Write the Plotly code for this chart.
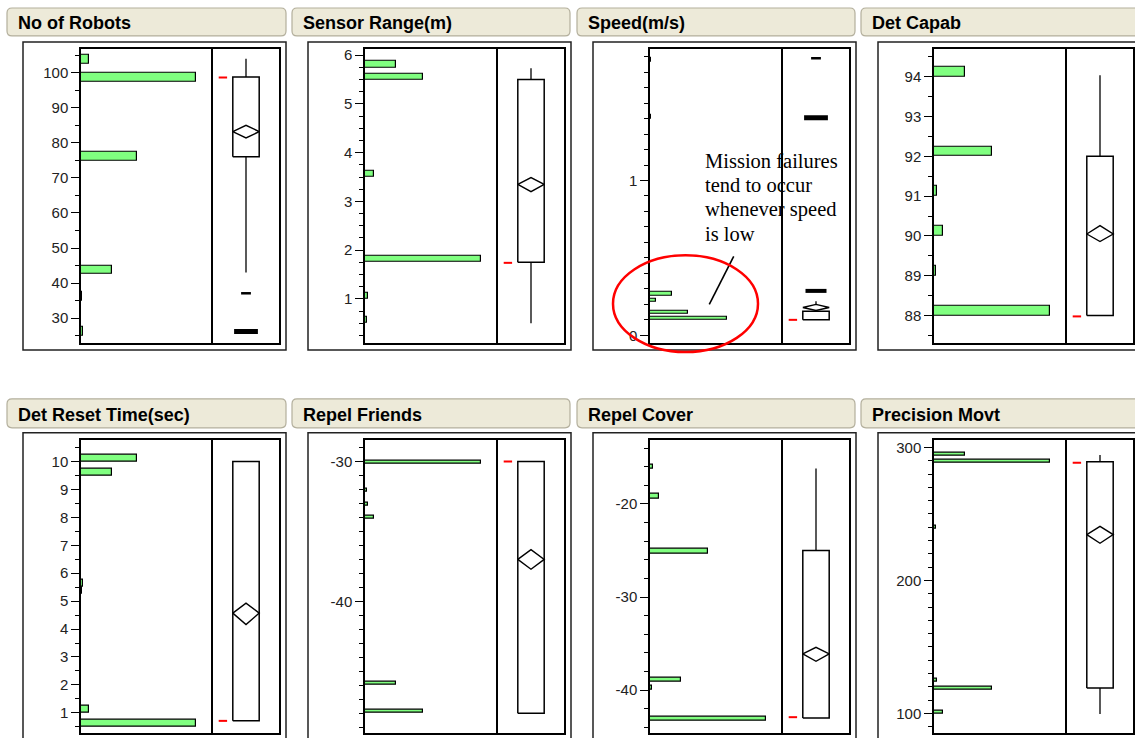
import plotly.graph_objects as go

# ---------------- data ----------------
titles = ["No of Robots", "Sensor Range(m)", "Speed(m/s)", "Det Capab",
          "Det Reset Time(sec)", "Repel Friends", "Repel Cover", "Precision Movt"]

robots_bin_lo = [25, 35, 42.5, 75, 97.5, 102.5]
robots_count = [2, 1, 27, 49, 100, 7]
robots_bin_w = 2.5
robots_ticks = [30, 40, 50, 60, 70, 80, 90, 100]
robots_ticklabels = ["30", "40", "50", "60", "70", "80", "90", "100"]
robots_range = [22.9, 106.8]
robots_minor = 5
robots_quartiles = [76, 98.75]
robots_whiskers = [43, 104]
robots_mean = [81.4, 83.2, 85.0]
robots_mark = 98.6
robots_outliers = [26.2, 37.1]
robots_outlier_n = [3, 1]

sensor_bin_lo = [0.5, 1.0, 1.75, 3.5, 5.5, 5.75]
sensor_count = [2, 3, 100, 8, 50, 27]
sensor_bin_w = 0.125
sensor_ticks = [1, 2, 3, 4, 5, 6]
sensor_ticklabels = ["1", "2", "3", "4", "5", "6"]
sensor_range = [0.094, 6.13]
sensor_minor = 0.25
sensor_quartiles = [1.75, 5.5]
sensor_whiskers = [0.5, 5.73]
sensor_mean = [3.2, 3.35, 3.49]
sensor_mark = 1.74
sensor_outliers = []
sensor_outlier_n = []

speed_bin_lo = [0.097, 0.136, 0.213, 0.258, 1.40, 1.765]
speed_count = [67, 33, 5, 19, 1, 1]
speed_bin_w = 0.025
speed_ticks = [0, 1]
speed_ticklabels = ["0", "1"]
speed_range = [-0.05, 1.85]
speed_minor = 0.1
speed_quartiles = [0.10, 0.155]
speed_whiskers = [0.10, 0.22]
speed_mean = [0.16, 0.18, 0.20]
speed_mark = 0.10
speed_outliers = [0.287, 1.405, 1.79]
speed_outlier_n = [2, 3, 1]

capab_bin_lo = [88, 89, 90, 91, 92, 94]
capab_count = [100, 2, 8, 3, 50, 27]
capab_bin_w = 0.25
capab_ticks = [88, 89, 90, 91, 92, 93, 94]
capab_ticklabels = ["88", "89", "90", "91", "92", "93", "94"]
capab_range = [87.31, 94.70]
capab_minor = 0.5
capab_quartiles = [88, 92]
capab_whiskers = [88, 94.04]
capab_mean = [89.86, 90.05, 90.26]
capab_mark = 87.98
capab_outliers = []
capab_outlier_n = []

reset_bin_lo = [0.5, 1.0, 5.25, 5.5, 9.5, 10.0]
reset_count = [100, 7, 1, 2, 27, 49]
reset_bin_w = 0.25
reset_ticks = [1, 2, 3, 4, 5, 6, 7, 8, 9, 10]
reset_ticklabels = ["1", "2", "3", "4", "5", "6", "7", "8", "9", "10"]
reset_range = [0.275, 10.78]
reset_minor = 0.5
reset_quartiles = [0.71, 10]
reset_whiskers = [0.71, 10]
reset_mean = [4.16, 4.57, 4.93]
reset_mark = 0.71
reset_outliers = []
reset_outlier_n = []

friends_bin_lo = [-48.0, -45.95, -34.1, -33.2, -32.15, -30.2]
friends_count = [50, 27, 8, 3, 2, 100]
friends_bin_w = 0.22
friends_ticks = [-40, -30]
friends_ticklabels = ["-40", "-30"]
friends_range = [-49.41, -28.45]
friends_minor = 1
friends_quartiles = [-48, -30]
friends_whiskers = [-48, -30]
friends_mean = [-37.7, -37.0, -36.3]
friends_mark = -30
friends_outliers = []
friends_outlier_n = []

cover_bin_lo = [-43.3, -40.0, -39.1, -25.3, -19.4, -16.2]
cover_count = [100, 1.5, 27, 50, 8, 3]
cover_bin_w = 0.45
cover_ticks = [-40, -30, -20]
cover_ticklabels = ["-40", "-30", "-20"]
cover_range = [-44.6, -13.11]
cover_minor = 2
cover_quartiles = [-43, -25]
cover_whiskers = [-43, -16.2]
cover_mean = [-36.9, -36.1, -35.4]
cover_mark = -42.9
cover_outliers = []
cover_outlier_n = []

prec_bin_lo = [99.5, 117.5, 123.5, 239, 288.5, 293.8]
prec_count = [8, 50, 3, 2, 100, 27]
prec_bin_w = 2.4
prec_ticks = [100, 200, 300]
prec_ticklabels = ["100", "200", "300"]
prec_range = [85.2, 305.8]
prec_minor = 10
prec_quartiles = [119, 289.3]
prec_whiskers = [99.5, 294.3]
prec_mean = [228, 234.5, 240.7]
prec_mark = 288.5
prec_outliers = []
prec_outlier_n = []

note_lines = ["Mission failures", "tend to occur", "whenever speed", "is low"]

# ---------------- layout constants (pixels) ----------------
W, H = 1135, 738
COLS = [(81, 213, 279), (365, 498, 564), (650, 783, 849), (934, 1067, 1133)]
ROWS = [(47, 342), (439, 733)]
OUTER_X = [(23, 286), (308, 571), (593, 856), (878, 1145)]
OUTER_Y = [(40, 349), (432, 748)]
HEAD_X = [(7, 286), (292, 570), (577, 855), (861, 1145)]
HEAD_Y = [(6, 34), (398, 427)]
HEAD_TEXT_Y = [21.5, 414]
BOX_L, BOX_C, BOX_R, MARK_X = 0.30, 0.50, 0.70, 0.15
HIST_MAX = 115

GREEN = "#80FF80"
FONT = "Liberation Sans"


def px(x):
    return x / W


def py(y):
    return 1 - y / H


panels = [
    (robots_bin_lo, robots_count, robots_bin_w, robots_ticks, robots_ticklabels, robots_range, robots_minor,
     robots_quartiles, robots_whiskers, robots_mean, robots_mark, robots_outliers, robots_outlier_n),
    (sensor_bin_lo, sensor_count, sensor_bin_w, sensor_ticks, sensor_ticklabels, sensor_range, sensor_minor,
     sensor_quartiles, sensor_whiskers, sensor_mean, sensor_mark, sensor_outliers, sensor_outlier_n),
    (speed_bin_lo, speed_count, speed_bin_w, speed_ticks, speed_ticklabels, speed_range, speed_minor,
     speed_quartiles, speed_whiskers, speed_mean, speed_mark, speed_outliers, speed_outlier_n),
    (capab_bin_lo, capab_count, capab_bin_w, capab_ticks, capab_ticklabels, capab_range, capab_minor,
     capab_quartiles, capab_whiskers, capab_mean, capab_mark, capab_outliers, capab_outlier_n),
    (reset_bin_lo, reset_count, reset_bin_w, reset_ticks, reset_ticklabels, reset_range, reset_minor,
     reset_quartiles, reset_whiskers, reset_mean, reset_mark, reset_outliers, reset_outlier_n),
    (friends_bin_lo, friends_count, friends_bin_w, friends_ticks, friends_ticklabels, friends_range, friends_minor,
     friends_quartiles, friends_whiskers, friends_mean, friends_mark, friends_outliers, friends_outlier_n),
    (cover_bin_lo, cover_count, cover_bin_w, cover_ticks, cover_ticklabels, cover_range, cover_minor,
     cover_quartiles, cover_whiskers, cover_mean, cover_mark, cover_outliers, cover_outlier_n),
    (prec_bin_lo, prec_count, prec_bin_w, prec_ticks, prec_ticklabels, prec_range, prec_minor,
     prec_quartiles, prec_whiskers, prec_mean, prec_mark, prec_outliers, prec_outlier_n),
]

OUTLIER_STYLE = {1: (7, 2.5), 2: (15, 4), 3: (17, 5)}

fig = go.Figure()
layout = {}
shapes = []
annotations = []


def rounded_rect(x0, y0, x1, y1, r=5):
    X0, X1 = px(x0), px(x1)
    Y0, Y1 = py(y0), py(y1)
    rx, ry = r / W, r / H
    return (f"M {X0+rx},{Y0} L {X1-rx},{Y0} Q {X1},{Y0} {X1},{Y0-ry} "
            f"L {X1},{Y1+ry} Q {X1},{Y1} {X1-rx},{Y1} L {X0+rx},{Y1} "
            f"Q {X0},{Y1} {X0},{Y1+ry} L {X0},{Y0-ry} Q {X0},{Y0} {X0+rx},{Y0} Z")


for i, (bin_lo, count, bw, ticks, ticklabels, yr, minor, quart, whisk, mean, mark, outl, outl_n) in enumerate(panels):
    r, c = divmod(i, 4)
    hx0, hdiv, hx1 = COLS[c]
    yt, yb = ROWS[r]
    nh, nb = 2 * i + 1, 2 * i + 2
    xh = "x" if nh == 1 else f"x{nh}"
    yh = "y" if nh == 1 else f"y{nh}"
    xb, yb_ = f"x{nb}", f"y{nb}"
    kxh = "xaxis" if nh == 1 else f"xaxis{nh}"
    kyh = "yaxis" if nh == 1 else f"yaxis{nh}"

    # histogram
    centers = [lo + bw / 2 for lo in bin_lo]
    fig.add_trace(go.Bar(orientation="h", y=centers, x=count, width=bw, base=0,
                         marker=dict(color=GREEN, line=dict(color="black", width=1.2)),
                         xaxis=xh, yaxis=yh, showlegend=False, hoverinfo="skip"))

    # whiskers
    fig.add_trace(go.Scatter(x=[BOX_C, BOX_C, None, BOX_C, BOX_C],
                             y=[quart[1], whisk[1], None, quart[0], whisk[0]],
                             mode="lines", line=dict(color="black", width=1.3),
                             xaxis=xb, yaxis=yb_, showlegend=False, hoverinfo="skip"))
    # box
    fig.add_trace(go.Scatter(x=[BOX_L, BOX_R, BOX_R, BOX_L, BOX_L],
                             y=[quart[0], quart[0], quart[1], quart[1], quart[0]],
                             mode="lines", fill="toself", fillcolor="white",
                             line=dict(color="black", width=1.5),
                             xaxis=xb, yaxis=yb_, showlegend=False, hoverinfo="skip"))
    # mean diamond
    fig.add_trace(go.Scatter(x=[BOX_L, BOX_C, BOX_R, BOX_C, BOX_L],
                             y=[mean[1], mean[2], mean[1], mean[0], mean[1]],
                             mode="lines", fill="toself", fillcolor="white",
                             line=dict(color="black", width=1.4),
                             xaxis=xb, yaxis=yb_, showlegend=False, hoverinfo="skip"))
    # outliers
    for v, n in zip(outl, outl_n):
        size, thick = OUTLIER_STYLE[n]
        fig.add_trace(go.Scatter(x=[BOX_C], y=[v], mode="markers",
                                 marker=dict(symbol="line-ew", size=size,
                                             line=dict(color="black", width=thick)),
                                 xaxis=xb, yaxis=yb_, showlegend=False, hoverinfo="skip"))
    # red mark
    fig.add_trace(go.Scatter(x=[MARK_X], y=[mark], mode="markers",
                             marker=dict(symbol="line-ew", size=6,
                                         line=dict(color="red", width=2)),
                             xaxis=xb, yaxis=yb_, showlegend=False, hoverinfo="skip"))

    ydom = [py(yb), py(yt)]
    base = dict(showline=True, linecolor="black", linewidth=1.5,
                showgrid=False, zeroline=False, fixedrange=True)
    layout[kxh] = dict(domain=[px(hx0), px(hdiv)], range=[0, HIST_MAX], anchor=yh,
                       showticklabels=False, ticks="", mirror=True, **base)
    layout[kyh] = dict(domain=ydom, range=yr, anchor=xh, tickmode="array",
                       tickvals=ticks, ticktext=ticklabels, ticks="outside",
                       ticklen=8, tickwidth=1.3, tickcolor="black",
                       tickfont=dict(family=FONT, size=15, color="#222"),
                       minor=dict(tickmode="linear", tick0=0, dtick=minor, ticks="outside",
                                  ticklen=4, tickwidth=1.2, tickcolor="black"),
                       mirror=False, **base)
    layout[f"xaxis{nb}"] = dict(domain=[px(hdiv), px(hx1)], range=[0, 1], anchor=yb_,
                                showticklabels=False, ticks="", mirror=True, **base)
    layout[f"yaxis{nb}"] = dict(domain=ydom, range=yr, anchor=xb, showticklabels=False,
                                ticks="", mirror=True, **base)

    # outer frame
    ox0, ox1 = OUTER_X[c]
    oy0, oy1 = OUTER_Y[r]
    shapes.append(dict(type="rect", xref="paper", yref="paper",
                       x0=px(ox0), x1=px(ox1), y0=py(oy1), y1=py(oy0),
                       line=dict(color="#222", width=1.5), layer="below"))
    # header
    hx_0, hx_1 = HEAD_X[c]
    hy0, hy1 = HEAD_Y[r]
    shapes.append(dict(type="path", xref="paper", yref="paper",
                       path=rounded_rect(hx_0, hy0, hx_1, hy1),
                       fillcolor="#EDEAD9", line=dict(color="#B3AF9C", width=1.2),
                       layer="below"))
    annotations.append(dict(text=titles[i], xref="paper", yref="paper",
                            x=px(hx_0 + 9), y=py(HEAD_TEXT_Y[r]), xanchor="left",
                            yanchor="middle", showarrow=False,
                            font=dict(family=FONT, size=18, color="black", weight="bold")))

# speed annotation
for k, line in enumerate(note_lines):
    annotations.append(dict(text=line, xref="paper", yref="paper",
                            x=px(703), y=py(159.7 + 24.2 * k), xanchor="left",
                            yanchor="middle", showarrow=False,
                            font=dict(family="Liberation Serif", size=20.5, color="black")))
shapes.append(dict(type="line", xref="paper", yref="paper",
                   x0=px(709.3), y0=py(303.3), x1=px(733.7), y1=py(255),
                   line=dict(color="black", width=1.6)))
shapes.append(dict(type="circle", xref="paper", yref="paper",
                   x0=px(613), x1=px(758), y0=py(351), y1=py(254),
                   line=dict(color="red", width=2.5)))

fig.update_layout(width=W, height=H, margin=dict(l=0, r=0, t=0, b=0, pad=0),
                  paper_bgcolor="white", plot_bgcolor="white",
                  shapes=shapes, annotations=annotations, showlegend=False,
                  bargap=0, **layout)

fig.write_html("out.html", config={"displayModeBar": False},
               post_script="document.body.style.margin='0';document.body.style.overflow='hidden';")
